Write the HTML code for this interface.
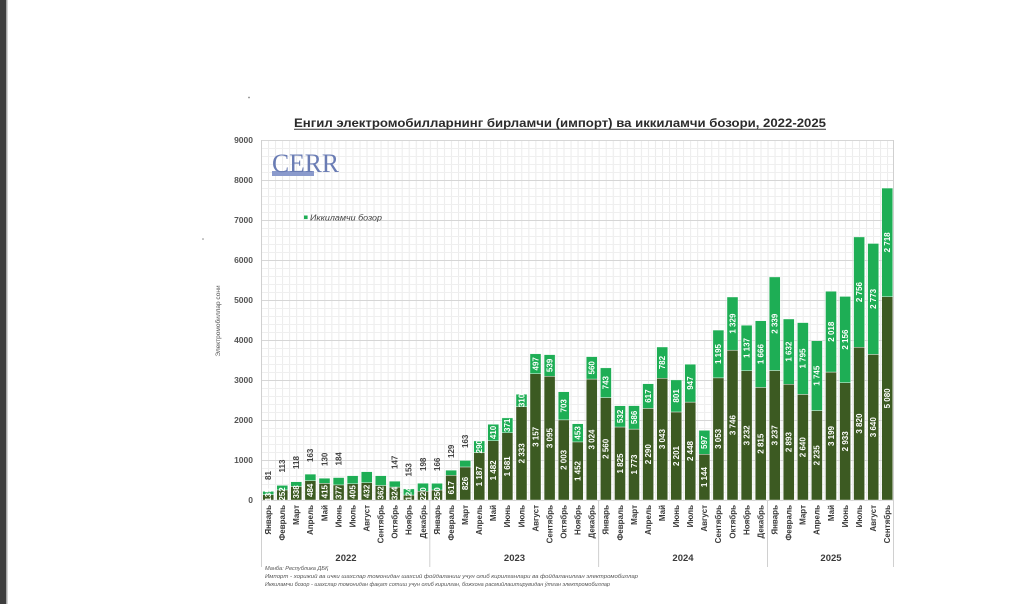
<!DOCTYPE html>
<html><head><meta charset="utf-8"><style>
html,body{margin:0;padding:0;background:#fff;}
svg{display:block;}
text{font-family:"Liberation Sans",Arial,sans-serif;}
.t{font-size:8.5px;font-weight:bold;fill:#555;text-anchor:end;}
.m{font-size:8px;font-weight:bold;fill:#3a3a3a;text-anchor:end;}
.d{font-size:8px;font-weight:bold;fill:#fff;text-anchor:middle;}
.a{font-size:8px;font-weight:bold;fill:#444;text-anchor:start;}
.y{font-size:9.5px;font-weight:bold;fill:#3a3a3a;text-anchor:middle;}
.f{font-size:5.6px;font-style:italic;fill:#555;}
</style></head><body>
<svg width="1024" height="604" viewBox="0 0 1024 604" xmlns="http://www.w3.org/2000/svg">
<defs>
<pattern id="g" x="261" y="140" width="7.035" height="8" patternUnits="userSpaceOnUse">
<line x1="0.5" y1="0" x2="0.5" y2="8" stroke="#ebebeb" stroke-width="1"/>
<line x1="0" y1="0.5" x2="7.035" y2="0.5" stroke="#efefef" stroke-width="1"/>
</pattern>
</defs>
<rect width="1024" height="604" fill="#fff"/>
<rect x="0" y="0" width="6" height="604" fill="#3e3e3e"/>
<rect x="6" y="0" width="1.5" height="604" fill="#a8a8a8"/>
<circle cx="249" cy="97.5" r="0.9" fill="#888"/>
<circle cx="203" cy="239" r="0.8" fill="#888"/>

<!-- title -->
<text x="294" y="127" font-size="12" font-weight="bold" fill="#2b2b2b" textLength="532" lengthAdjust="spacingAndGlyphs">Енгил электромобилларнинг бирламчи (импорт) ва иккиламчи бозори, 2022-2025</text>
<line x1="294" y1="129.3" x2="826" y2="129.3" stroke="#333" stroke-width="1"/>

<!-- grid -->
<rect x="261" y="140" width="633" height="360" fill="url(#g)"/>
<g stroke="#d6d6d6" stroke-width="1">
<line x1="261" y1="140.5" x2="894" y2="140.5"/>
<line x1="261" y1="180.5" x2="894" y2="180.5"/>
<line x1="261" y1="220.5" x2="894" y2="220.5"/>
<line x1="261" y1="260.5" x2="894" y2="260.5"/>
<line x1="261" y1="300.5" x2="894" y2="300.5"/>
<line x1="261" y1="340.5" x2="894" y2="340.5"/>
<line x1="261" y1="380.5" x2="894" y2="380.5"/>
<line x1="261" y1="420.5" x2="894" y2="420.5"/>
<line x1="261" y1="460.5" x2="894" y2="460.5"/>
<line x1="261" y1="500.5" x2="894" y2="500.5"/>
</g>
<!-- year separators -->
<g stroke="#d0d0d0" stroke-width="1">
<line x1="261.5" y1="140" x2="261.5" y2="567"/>
<line x1="429.8" y1="500" x2="429.8" y2="567"/>
<line x1="598.6" y1="500" x2="598.6" y2="567"/>
<line x1="767.5" y1="500" x2="767.5" y2="567"/>
<line x1="893.5" y1="140" x2="893.5" y2="567"/>
</g>

<!-- y ticks -->
<text class="t" x="253" y="143">9000</text>
<text class="t" x="253" y="183">8000</text>
<text class="t" x="253" y="223">7000</text>
<text class="t" x="253" y="263">6000</text>
<text class="t" x="253" y="303">5000</text>
<text class="t" x="253" y="343">4000</text>
<text class="t" x="253" y="383">3000</text>
<text class="t" x="253" y="423">2000</text>
<text class="t" x="253" y="463">1000</text>
<text class="t" x="253" y="503">0</text>
<text transform="translate(220,321) rotate(-90)" font-size="6.5" fill="#555" text-anchor="middle">Электромобиллар сони</text>

<!-- CERR logo -->
<rect x="272" y="171" width="42" height="5" fill="#8a9acc"/>
<text x="272" y="172" style="font-family:'Liberation Serif','DejaVu Serif',serif;font-size:26px;fill:#6a7cb4;" textLength="67" lengthAdjust="spacingAndGlyphs">CERR</text>

<!-- legend -->
<rect x="304" y="215.5" width="3.6" height="3.6" fill="#1eae55"/>
<text x="310" y="220.5" font-size="8" font-style="italic" fill="#444" textLength="72" lengthAdjust="spacingAndGlyphs">Иккиламчи бозор</text>

<!-- bars -->
<g stroke="#fff" stroke-width="0.4">
<rect x="262.7" y="494.6" width="11" height="5.4" fill="#3c5a22"/><rect x="262.7" y="491.36" width="11" height="3.24" fill="#1eae55"/>
<rect x="276.8" y="489.92" width="11" height="10.08" fill="#3c5a22"/><rect x="276.8" y="485.4" width="11" height="4.52" fill="#1eae55"/>
<rect x="290.8" y="486.48" width="11" height="13.52" fill="#3c5a22"/><rect x="290.8" y="481.76" width="11" height="4.72" fill="#1eae55"/>
<rect x="304.9" y="480.64" width="11" height="19.36" fill="#3c5a22"/><rect x="304.9" y="474.12" width="11" height="6.52" fill="#1eae55"/>
<rect x="319.0" y="483.4" width="11" height="16.6" fill="#3c5a22"/><rect x="319.0" y="478.2" width="11" height="5.2" fill="#1eae55"/>
<rect x="333.1" y="484.92" width="11" height="15.08" fill="#3c5a22"/><rect x="333.1" y="477.56" width="11" height="7.36" fill="#1eae55"/>
<rect x="347.1" y="483.8" width="11" height="16.2" fill="#3c5a22"/><rect x="347.1" y="475.68" width="11" height="8.12" fill="#1eae55"/>
<rect x="361.2" y="482.72" width="11" height="17.28" fill="#3c5a22"/><rect x="361.2" y="471.68" width="11" height="11.04" fill="#1eae55"/>
<rect x="375.3" y="485.52" width="11" height="14.48" fill="#3c5a22"/><rect x="375.3" y="475.68" width="11" height="9.84" fill="#1eae55"/>
<rect x="389.3" y="487.04" width="11" height="12.96" fill="#3c5a22"/><rect x="389.3" y="481.16" width="11" height="5.88" fill="#1eae55"/>
<rect x="403.4" y="495.04" width="11" height="4.96" fill="#3c5a22"/><rect x="403.4" y="488.92" width="11" height="6.12" fill="#1eae55"/>
<rect x="417.5" y="491.2" width="11" height="8.8" fill="#3c5a22"/><rect x="417.5" y="483.28" width="11" height="7.92" fill="#1eae55"/>
<rect x="431.5" y="490" width="11" height="10" fill="#3c5a22"/><rect x="431.5" y="483.36" width="11" height="6.64" fill="#1eae55"/>
<rect x="445.6" y="475.32" width="11" height="24.68" fill="#3c5a22"/><rect x="445.6" y="470.16" width="11" height="5.16" fill="#1eae55"/>
<rect x="459.7" y="466.96" width="11" height="33.04" fill="#3c5a22"/><rect x="459.7" y="460.44" width="11" height="6.52" fill="#1eae55"/>
<rect x="473.8" y="452.52" width="11" height="47.48" fill="#3c5a22"/><rect x="473.8" y="440.92" width="11" height="11.6" fill="#1eae55"/>
<rect x="487.8" y="440.72" width="11" height="59.28" fill="#3c5a22"/><rect x="487.8" y="424.32" width="11" height="16.4" fill="#1eae55"/>
<rect x="501.9" y="432.76" width="11" height="67.24" fill="#3c5a22"/><rect x="501.9" y="417.92" width="11" height="14.84" fill="#1eae55"/>
<rect x="516.0" y="406.68" width="11" height="93.32" fill="#3c5a22"/><rect x="516.0" y="394.28" width="11" height="12.4" fill="#1eae55"/>
<rect x="530.0" y="373.72" width="11" height="126.28" fill="#3c5a22"/><rect x="530.0" y="353.84" width="11" height="19.88" fill="#1eae55"/>
<rect x="544.1" y="376.2" width="11" height="123.8" fill="#3c5a22"/><rect x="544.1" y="354.64" width="11" height="21.56" fill="#1eae55"/>
<rect x="558.2" y="419.88" width="11" height="80.12" fill="#3c5a22"/><rect x="558.2" y="391.76" width="11" height="28.12" fill="#1eae55"/>
<rect x="572.2" y="441.92" width="11" height="58.08" fill="#3c5a22"/><rect x="572.2" y="423.8" width="11" height="18.12" fill="#1eae55"/>
<rect x="586.3" y="379.04" width="11" height="120.96" fill="#3c5a22"/><rect x="586.3" y="356.64" width="11" height="22.4" fill="#1eae55"/>
<rect x="600.4" y="397.6" width="11" height="102.4" fill="#3c5a22"/><rect x="600.4" y="367.88" width="11" height="29.72" fill="#1eae55"/>
<rect x="614.5" y="427" width="11" height="73" fill="#3c5a22"/><rect x="614.5" y="405.72" width="11" height="21.28" fill="#1eae55"/>
<rect x="628.5" y="429.08" width="11" height="70.92" fill="#3c5a22"/><rect x="628.5" y="405.64" width="11" height="23.44" fill="#1eae55"/>
<rect x="642.6" y="408.4" width="11" height="91.6" fill="#3c5a22"/><rect x="642.6" y="383.72" width="11" height="24.68" fill="#1eae55"/>
<rect x="656.7" y="378.28" width="11" height="121.72" fill="#3c5a22"/><rect x="656.7" y="347" width="11" height="31.28" fill="#1eae55"/>
<rect x="670.7" y="411.96" width="11" height="88.04" fill="#3c5a22"/><rect x="670.7" y="379.92" width="11" height="32.04" fill="#1eae55"/>
<rect x="684.8" y="402.08" width="11" height="97.92" fill="#3c5a22"/><rect x="684.8" y="364.2" width="11" height="37.88" fill="#1eae55"/>
<rect x="698.9" y="454.24" width="11" height="45.76" fill="#3c5a22"/><rect x="698.9" y="430.36" width="11" height="23.88" fill="#1eae55"/>
<rect x="712.9" y="377.88" width="11" height="122.12" fill="#3c5a22"/><rect x="712.9" y="330.08" width="11" height="47.8" fill="#1eae55"/>
<rect x="727.0" y="350.16" width="11" height="149.84" fill="#3c5a22"/><rect x="727.0" y="297" width="11" height="53.16" fill="#1eae55"/>
<rect x="741.1" y="370.72" width="11" height="129.28" fill="#3c5a22"/><rect x="741.1" y="325.24" width="11" height="45.48" fill="#1eae55"/>
<rect x="755.2" y="387.4" width="11" height="112.6" fill="#3c5a22"/><rect x="755.2" y="320.76" width="11" height="66.64" fill="#1eae55"/>
<rect x="769.2" y="370.52" width="11" height="129.48" fill="#3c5a22"/><rect x="769.2" y="276.96" width="11" height="93.56" fill="#1eae55"/>
<rect x="783.3" y="384.28" width="11" height="115.72" fill="#3c5a22"/><rect x="783.3" y="319" width="11" height="65.28" fill="#1eae55"/>
<rect x="797.4" y="394.4" width="11" height="105.6" fill="#3c5a22"/><rect x="797.4" y="322.6" width="11" height="71.8" fill="#1eae55"/>
<rect x="811.4" y="410.6" width="11" height="89.4" fill="#3c5a22"/><rect x="811.4" y="340.8" width="11" height="69.8" fill="#1eae55"/>
<rect x="825.5" y="372.04" width="11" height="127.96" fill="#3c5a22"/><rect x="825.5" y="291.32" width="11" height="80.72" fill="#1eae55"/>
<rect x="839.6" y="382.68" width="11" height="117.32" fill="#3c5a22"/><rect x="839.6" y="296.44" width="11" height="86.24" fill="#1eae55"/>
<rect x="853.6" y="347.2" width="11" height="152.8" fill="#3c5a22"/><rect x="853.6" y="236.96" width="11" height="110.24" fill="#1eae55"/>
<rect x="867.7" y="354.4" width="11" height="145.6" fill="#3c5a22"/><rect x="867.7" y="243.48" width="11" height="110.92" fill="#1eae55"/>
<rect x="881.8" y="296.8" width="11" height="203.2" fill="#3c5a22"/><rect x="881.8" y="188.08" width="11" height="108.72" fill="#1eae55"/>
</g>

<!-- dark (primary) labels -->
<g>
<text class="d" transform="translate(268.2,495) rotate(-90)" dy="2.8">135</text>
<text class="d" transform="translate(282.3,494) rotate(-90)" dy="2.8">252</text>
<text class="d" transform="translate(296.3,492) rotate(-90)" dy="2.8">338</text>
<text class="d" transform="translate(310.4,490.3) rotate(-90)" dy="2.8">484</text>
<text class="d" transform="translate(324.5,491.7) rotate(-90)" dy="2.8">415</text>
<text class="d" transform="translate(338.6,492.5) rotate(-90)" dy="2.8">377</text>
<text class="d" transform="translate(352.6,491.9) rotate(-90)" dy="2.8">405</text>
<text class="d" transform="translate(366.7,491.4) rotate(-90)" dy="2.8">432</text>
<text class="d" transform="translate(380.8,492.8) rotate(-90)" dy="2.8">362</text>
<text class="d" transform="translate(394.8,493.5) rotate(-90)" dy="2.8">324</text>
<text class="d" transform="translate(408.9,494) rotate(-90)" dy="2.8">124</text>
<text class="d" transform="translate(423.0,494) rotate(-90)" dy="2.8">220</text>
<text class="d" transform="translate(437.0,494) rotate(-90)" dy="2.8">250</text>
<text class="d" transform="translate(451.1,487.7) rotate(-90)" dy="2.8">617</text>
<text class="d" transform="translate(465.2,483.5) rotate(-90)" dy="2.8">826</text>
<text class="d" transform="translate(479.3,476.3) rotate(-90)" dy="2.8">1 187</text>
<text class="d" transform="translate(493.3,470.4) rotate(-90)" dy="2.8">1 482</text>
<text class="d" transform="translate(507.4,466.4) rotate(-90)" dy="2.8">1 681</text>
<text class="d" transform="translate(521.5,453.3) rotate(-90)" dy="2.8">2 333</text>
<text class="d" transform="translate(535.5,436.9) rotate(-90)" dy="2.8">3 157</text>
<text class="d" transform="translate(549.6,438.1) rotate(-90)" dy="2.8">3 095</text>
<text class="d" transform="translate(563.7,459.9) rotate(-90)" dy="2.8">2 003</text>
<text class="d" transform="translate(577.7,471) rotate(-90)" dy="2.8">1 452</text>
<text class="d" transform="translate(591.8,439.5) rotate(-90)" dy="2.8">3 024</text>
<text class="d" transform="translate(605.9,448.8) rotate(-90)" dy="2.8">2 560</text>
<text class="d" transform="translate(620.0,463.5) rotate(-90)" dy="2.8">1 825</text>
<text class="d" transform="translate(634.0,464.5) rotate(-90)" dy="2.8">1 773</text>
<text class="d" transform="translate(648.1,454.2) rotate(-90)" dy="2.8">2 290</text>
<text class="d" transform="translate(662.2,439.1) rotate(-90)" dy="2.8">3 043</text>
<text class="d" transform="translate(676.2,456) rotate(-90)" dy="2.8">2 201</text>
<text class="d" transform="translate(690.3,451) rotate(-90)" dy="2.8">2 448</text>
<text class="d" transform="translate(704.4,477.1) rotate(-90)" dy="2.8">1 144</text>
<text class="d" transform="translate(718.4,438.9) rotate(-90)" dy="2.8">3 053</text>
<text class="d" transform="translate(732.5,425.1) rotate(-90)" dy="2.8">3 746</text>
<text class="d" transform="translate(746.6,435.4) rotate(-90)" dy="2.8">3 232</text>
<text class="d" transform="translate(760.7,443.7) rotate(-90)" dy="2.8">2 815</text>
<text class="d" transform="translate(774.7,435.3) rotate(-90)" dy="2.8">3 237</text>
<text class="d" transform="translate(788.8,442.1) rotate(-90)" dy="2.8">2 893</text>
<text class="d" transform="translate(802.9,447.2) rotate(-90)" dy="2.8">2 640</text>
<text class="d" transform="translate(816.9,455.3) rotate(-90)" dy="2.8">2 235</text>
<text class="d" transform="translate(831.0,436) rotate(-90)" dy="2.8">3 199</text>
<text class="d" transform="translate(845.1,441.3) rotate(-90)" dy="2.8">2 933</text>
<text class="d" transform="translate(859.1,423.6) rotate(-90)" dy="2.8">3 820</text>
<text class="d" transform="translate(873.2,427.2) rotate(-90)" dy="2.8">3 640</text>
<text class="d" transform="translate(887.3,398.4) rotate(-90)" dy="2.8">5 080</text>
</g>

<!-- light (secondary) labels inside -->
<g>
<text class="d" transform="translate(479.3,446.7) rotate(-90)" dy="2.8">290</text>
<text class="d" transform="translate(493.3,432.5) rotate(-90)" dy="2.8">410</text>
<text class="d" transform="translate(507.4,425.3) rotate(-90)" dy="2.8">371</text>
<text class="d" transform="translate(521.5,400.5) rotate(-90)" dy="2.8">310</text>
<text class="d" transform="translate(535.5,363.8) rotate(-90)" dy="2.8">497</text>
<text class="d" transform="translate(549.6,365.4) rotate(-90)" dy="2.8">539</text>
<text class="d" transform="translate(563.7,405.8) rotate(-90)" dy="2.8">703</text>
<text class="d" transform="translate(577.7,432.9) rotate(-90)" dy="2.8">453</text>
<text class="d" transform="translate(591.8,367.8) rotate(-90)" dy="2.8">560</text>
<text class="d" transform="translate(605.9,382.7) rotate(-90)" dy="2.8">743</text>
<text class="d" transform="translate(620.0,416.4) rotate(-90)" dy="2.8">532</text>
<text class="d" transform="translate(634.0,417.4) rotate(-90)" dy="2.8">586</text>
<text class="d" transform="translate(648.1,396.1) rotate(-90)" dy="2.8">617</text>
<text class="d" transform="translate(662.2,362.6) rotate(-90)" dy="2.8">782</text>
<text class="d" transform="translate(676.2,395.9) rotate(-90)" dy="2.8">801</text>
<text class="d" transform="translate(690.3,383.1) rotate(-90)" dy="2.8">947</text>
<text class="d" transform="translate(704.4,442.3) rotate(-90)" dy="2.8">597</text>
<text class="d" transform="translate(718.4,354) rotate(-90)" dy="2.8">1 195</text>
<text class="d" transform="translate(732.5,323.6) rotate(-90)" dy="2.8">1 329</text>
<text class="d" transform="translate(746.6,348) rotate(-90)" dy="2.8">1 137</text>
<text class="d" transform="translate(760.7,354.1) rotate(-90)" dy="2.8">1 666</text>
<text class="d" transform="translate(774.7,323.7) rotate(-90)" dy="2.8">2 339</text>
<text class="d" transform="translate(788.8,351.6) rotate(-90)" dy="2.8">1 632</text>
<text class="d" transform="translate(802.9,358.5) rotate(-90)" dy="2.8">1 795</text>
<text class="d" transform="translate(816.9,375.7) rotate(-90)" dy="2.8">1 745</text>
<text class="d" transform="translate(831.0,331.7) rotate(-90)" dy="2.8">2 018</text>
<text class="d" transform="translate(845.1,339.6) rotate(-90)" dy="2.8">2 156</text>
<text class="d" transform="translate(859.1,292.1) rotate(-90)" dy="2.8">2 756</text>
<text class="d" transform="translate(873.2,298.9) rotate(-90)" dy="2.8">2 773</text>
<text class="d" transform="translate(887.3,242.4) rotate(-90)" dy="2.8">2 718</text>
</g>

<!-- light labels above small bars -->
<g>
<text class="a" transform="translate(271,480) rotate(-90)">81</text>
<text class="a" transform="translate(285.1,472.5) rotate(-90)">113</text>
<text class="a" transform="translate(299.1,469) rotate(-90)">118</text>
<text class="a" transform="translate(313.2,462) rotate(-90)">163</text>
<text class="a" transform="translate(327.3,466) rotate(-90)">130</text>
<text class="a" transform="translate(341.4,465.5) rotate(-90)">184</text>
<text class="a" transform="translate(397.6,469) rotate(-90)">147</text>
<text class="a" transform="translate(411.7,476.5) rotate(-90)">153</text>
<text class="a" transform="translate(425.8,471) rotate(-90)">198</text>
<text class="a" transform="translate(439.8,471) rotate(-90)">166</text>
<text class="a" transform="translate(453.9,458) rotate(-90)">129</text>
<text class="a" transform="translate(468.0,448) rotate(-90)">163</text>
</g>

<!-- month labels -->
<g>
<text class="m" transform="translate(271,505) rotate(-90)">Январь</text>
<text class="m" transform="translate(285.1,505) rotate(-90)">Февраль</text>
<text class="m" transform="translate(299.1,505) rotate(-90)">Март</text>
<text class="m" transform="translate(313.2,505) rotate(-90)">Апрель</text>
<text class="m" transform="translate(327.3,505) rotate(-90)">Май</text>
<text class="m" transform="translate(341.4,505) rotate(-90)">Июнь</text>
<text class="m" transform="translate(355.4,505) rotate(-90)">Июль</text>
<text class="m" transform="translate(369.5,505) rotate(-90)">Август</text>
<text class="m" transform="translate(383.6,505) rotate(-90)">Сентябрь</text>
<text class="m" transform="translate(397.6,505) rotate(-90)">Октябрь</text>
<text class="m" transform="translate(411.7,505) rotate(-90)">Ноябрь</text>
<text class="m" transform="translate(425.8,505) rotate(-90)">Декабрь</text>
<text class="m" transform="translate(439.8,505) rotate(-90)">Январь</text>
<text class="m" transform="translate(453.9,505) rotate(-90)">Февраль</text>
<text class="m" transform="translate(468.0,505) rotate(-90)">Март</text>
<text class="m" transform="translate(482.1,505) rotate(-90)">Апрель</text>
<text class="m" transform="translate(496.1,505) rotate(-90)">Май</text>
<text class="m" transform="translate(510.2,505) rotate(-90)">Июнь</text>
<text class="m" transform="translate(524.3,505) rotate(-90)">Июль</text>
<text class="m" transform="translate(538.3,505) rotate(-90)">Август</text>
<text class="m" transform="translate(552.4,505) rotate(-90)">Сентябрь</text>
<text class="m" transform="translate(566.5,505) rotate(-90)">Октябрь</text>
<text class="m" transform="translate(580.5,505) rotate(-90)">Ноябрь</text>
<text class="m" transform="translate(594.6,505) rotate(-90)">Декабрь</text>
<text class="m" transform="translate(608.7,505) rotate(-90)">Январь</text>
<text class="m" transform="translate(622.8,505) rotate(-90)">Февраль</text>
<text class="m" transform="translate(636.8,505) rotate(-90)">Март</text>
<text class="m" transform="translate(650.9,505) rotate(-90)">Апрель</text>
<text class="m" transform="translate(665.0,505) rotate(-90)">Май</text>
<text class="m" transform="translate(679.0,505) rotate(-90)">Июнь</text>
<text class="m" transform="translate(693.1,505) rotate(-90)">Июль</text>
<text class="m" transform="translate(707.2,505) rotate(-90)">Август</text>
<text class="m" transform="translate(721.2,505) rotate(-90)">Сентябрь</text>
<text class="m" transform="translate(735.3,505) rotate(-90)">Октябрь</text>
<text class="m" transform="translate(749.4,505) rotate(-90)">Ноябрь</text>
<text class="m" transform="translate(763.5,505) rotate(-90)">Декабрь</text>
<text class="m" transform="translate(777.5,505) rotate(-90)">Январь</text>
<text class="m" transform="translate(791.6,505) rotate(-90)">Февраль</text>
<text class="m" transform="translate(805.7,505) rotate(-90)">Март</text>
<text class="m" transform="translate(819.7,505) rotate(-90)">Апрель</text>
<text class="m" transform="translate(833.8,505) rotate(-90)">Май</text>
<text class="m" transform="translate(847.9,505) rotate(-90)">Июнь</text>
<text class="m" transform="translate(861.9,505) rotate(-90)">Июль</text>
<text class="m" transform="translate(876.0,505) rotate(-90)">Август</text>
<text class="m" transform="translate(890.1,505) rotate(-90)">Сентябрь</text>
</g>

<!-- years -->
<text class="y" x="346" y="561">2022</text>
<text class="y" x="514.5" y="561">2023</text>
<text class="y" x="683" y="561">2024</text>
<text class="y" x="831" y="561">2025</text>

<!-- footnotes -->
<text class="f" x="265" y="570">Манба: Республика ДБҚ</text>
<text class="f" x="265" y="578" textLength="373" lengthAdjust="spacingAndGlyphs">Импорт - хорижий ва ички шахслар томонидан шахсий фойдаланиш учун олиб кирилганлари ва фойдаланилган электромобиллар</text>
<text class="f" x="265" y="586" textLength="345" lengthAdjust="spacingAndGlyphs">Иккиламчи бозор - шахслар томонидан фақат сотиш учун олиб кирилган, божхона расмийлаштирувидан ўтган электромобиллар</text>
</svg>
</body></html>
